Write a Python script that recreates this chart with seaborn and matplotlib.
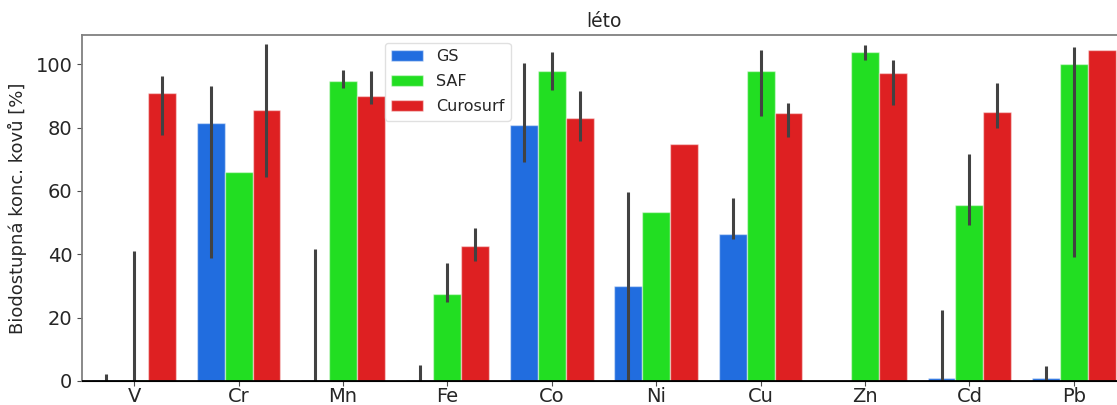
import numpy as np
import pandas as pd
import matplotlib
matplotlib.use("Agg")
import matplotlib.pyplot as plt
import seaborn as sns

metals = ["V", "Cr", "Mn", "Fe", "Co", "Ni", "Cu", "Zn", "Cd", "Pb"]
groups = ["GS", "SAF", "Curosurf"]

gs_vals = [0.2, 81.4, 0.2, 0.4, 80.9, 29.9, 46.3, np.nan, 0.8, 0.8]
saf_vals = [0.2, 66.0, 94.7, 27.5, 97.9, 53.3, 97.7, 103.8, 55.6, 99.9]
cur_vals = [90.9, 85.4, 89.9, 42.5, 82.9, 74.9, 84.5, 97.3, 84.9, 104.4]

gs_lo = [0.0, 38.7, 0.0, 0.0, 69.1, 0.0, 44.7, np.nan, 0.0, 0.0]
gs_hi = [2.1, 93.2, 41.7, 5.0, 100.4, 59.7, 57.8, np.nan, 22.3, 4.8]
saf_lo = [0.0, np.nan, 92.6, 24.8, 91.8, np.nan, 83.5, 101.4, 49.1, 39.2]
saf_hi = [40.9, np.nan, 98.2, 37.3, 103.8, np.nan, 104.6, 106.2, 71.8, 105.3]
cur_lo = [77.6, 64.3, 87.3, 37.9, 75.8, np.nan, 77.1, 87.2, 79.9, np.nan]
cur_hi = [96.2, 106.4, 97.7, 48.2, 91.6, np.nan, 87.6, 101.3, 93.9, np.nan]

colors = ["#216ddf", "#22de22", "#de2022"]
title = "léto"
ylabel = "Biodostupná konc. kovů [%]"

rows = []
for g, vals in zip(groups, [gs_vals, saf_vals, cur_vals]):
    for m, v in zip(metals, vals):
        if not np.isnan(v):
            rows.append({"kov": m, "skupina": g, "hodnota": v})
df = pd.DataFrame(rows)

errs = {"GS": (gs_lo, gs_hi), "SAF": (saf_lo, saf_hi), "Curosurf": (cur_lo, cur_hi)}

sns.set_style("white")
plt.rcParams["font.family"] = ["DejaVu Sans"]

fig = plt.figure(figsize=(11.17, 4.05), dpi=100)
ax = fig.add_axes([82 / 1117, 1 - 381 / 405, 1044 / 1117, 346 / 405])

sns.barplot(data=df, x="kov", y="hodnota", hue="skupina", order=metals,
            hue_order=groups, palette=colors, saturation=1, errorbar=None,
            edgecolor=(1, 1, 1, 0.45), linewidth=1, ax=ax)

for cont, g in zip(ax.containers, groups):
    lo, hi = errs[g]
    for bar in cont:
        cx = bar.get_x() + bar.get_width() / 2
        i = int(round(cx))
        if not np.isnan(lo[i]):
            ax.vlines(cx, lo[i], hi[i], color="#424242", linewidth=2.2, zorder=3)

ax.axhline(0, color="black", linewidth=1.3, zorder=4)
ax.set_ylim(0, 109.2)
ax.set_xlim(-0.5, len(metals) - 0.5)
ax.set_xlabel("")
ax.set_ylabel(ylabel, fontsize=13, labelpad=6)
ax.set_title(title, fontsize=13.5, pad=6)
ax.tick_params(axis="both", labelsize=14, length=3.5, color="0.3", left=True, bottom=True)
ax.tick_params(axis="x", pad=0.5)
for s in ["left", "top", "right"]:
    ax.spines[s].set_color("0.5")
    ax.spines[s].set_linewidth(1.3)
ax.spines["bottom"].set_color("black")

leg = ax.legend(loc="upper left", bbox_to_anchor=(0.290, 0.977), borderaxespad=0,
                fontsize=11.5, title=None, frameon=True, labelspacing=0.62)
leg.get_frame().set_edgecolor("0.85")

fig.savefig("out.png", dpi=100)
